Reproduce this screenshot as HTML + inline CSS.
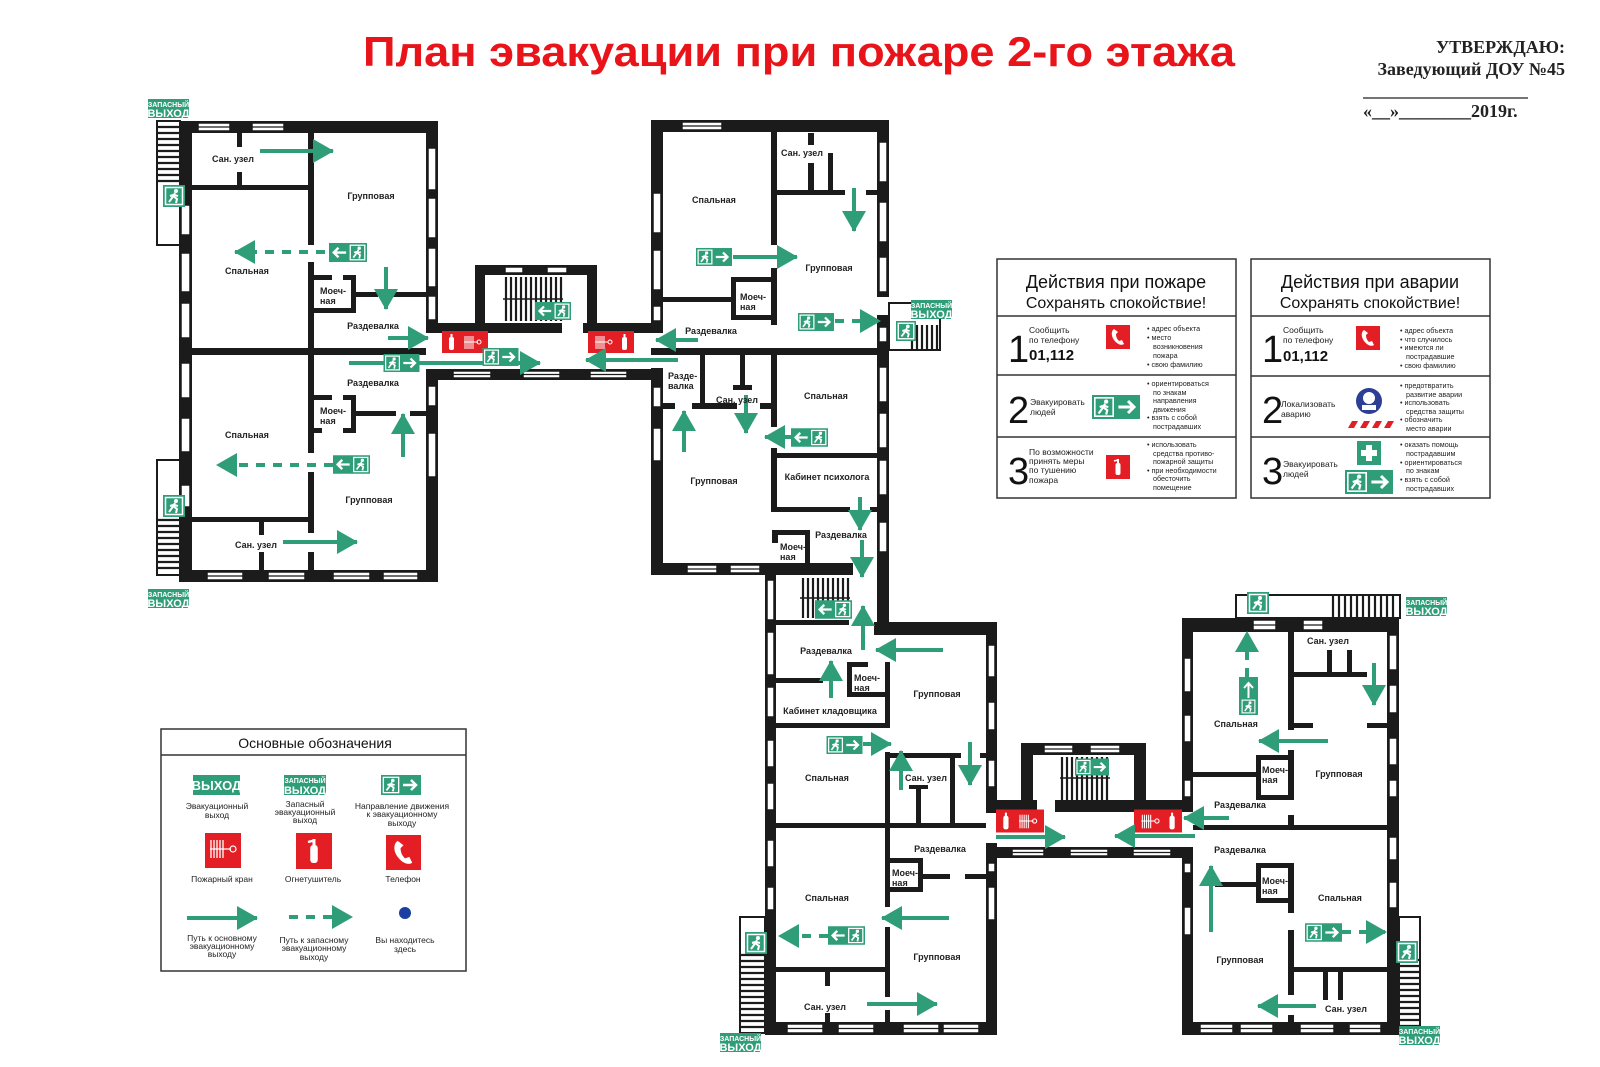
<!DOCTYPE html>
<html><head><meta charset="utf-8"><style>
html,body{margin:0;padding:0;background:#fff}
svg{display:block}
.t{font-family:"Liberation Sans",sans-serif;font-size:9px;font-weight:bold;fill:#222}
.s{font-family:"Liberation Sans",sans-serif;font-size:7.2px;fill:#222}
.m{font-family:"Liberation Sans",sans-serif;font-size:8.5px;fill:#222}
.l{font-family:"Liberation Sans",sans-serif;font-size:8.5px;fill:#222;text-anchor:middle}
.w{fill:#1b1b1b}
.ar{stroke:#2f9e78;stroke-width:4;fill:none}
.da{stroke:#2f9e78;stroke-width:4;fill:none;stroke-dasharray:9 8}
.ex{font-family:"Liberation Sans",sans-serif;font-weight:bold;fill:#fff;text-anchor:middle}
</style></head><body>
<svg width="1600" height="1067" viewBox="0 0 1600 1067" xmlns="http://www.w3.org/2000/svg">
<defs>
<marker id="ah" markerUnits="userSpaceOnUse" markerWidth="22" markerHeight="24" refX="20" refY="12" orient="auto"><path d="M0,0 L21,12 L0,24 z" fill="#2f9e78"/></marker>
<symbol id="man" viewBox="0 0 20 20"><rect x="1.5" y="1.5" width="17" height="17" fill="none" stroke="#fff" stroke-width="1.5"/><circle cx="12" cy="5" r="2" fill="#fff"/><path d="M11,7 L8,12 L5,16 M9,10 L13,13 L12,17 M9,9 L6,10 M10,9 L14,10" stroke="#fff" stroke-width="2" fill="none"/></symbol>
<symbol id="sgR" viewBox="0 0 40 20"><rect width="40" height="20" fill="#2f9e78"/><use href="#man" x="1" y="1" width="18" height="18"/><path d="M22,10 H35 M30,5 L35,10 L30,15" stroke="#fff" stroke-width="2.5" fill="none"/></symbol>
<symbol id="sgL" viewBox="0 0 40 20"><rect width="40" height="20" fill="#2f9e78"/><use href="#man" x="21" y="1" width="18" height="18"/><path d="M18,10 H5 M10,5 L5,10 L10,15" stroke="#fff" stroke-width="2.5" fill="none"/></symbol>
<symbol id="exi" viewBox="0 0 22 22"><rect width="22" height="22" fill="#2f9e78"/><use href="#man" x="1" y="1" width="20" height="20"/></symbol>
<symbol id="redL" viewBox="0 0 46 22"><rect width="46" height="22" fill="#e31e24"/><rect x="7" y="6" width="5" height="13" rx="2" fill="#fff"/><rect x="8.5" y="3" width="2" height="4" fill="#fff"/><g stroke="#fff" stroke-width="1"><line x1="23" y1="5" x2="23" y2="18"/><line x1="25" y1="5" x2="25" y2="18"/><line x1="27" y1="5" x2="27" y2="18"/><line x1="29" y1="5" x2="29" y2="18"/><line x1="31" y1="5" x2="31" y2="18"/><line x1="22" y1="11" x2="36" y2="11"/><circle cx="37" cy="11" r="2" fill="none"/></g></symbol>
<symbol id="redR" viewBox="0 0 46 22"><rect width="46" height="22" fill="#e31e24"/><rect x="34" y="6" width="5" height="13" rx="2" fill="#fff"/><rect x="35.5" y="3" width="2" height="4" fill="#fff"/><g stroke="#fff" stroke-width="1"><line x1="8" y1="5" x2="8" y2="18"/><line x1="10" y1="5" x2="10" y2="18"/><line x1="12" y1="5" x2="12" y2="18"/><line x1="14" y1="5" x2="14" y2="18"/><line x1="16" y1="5" x2="16" y2="18"/><line x1="7" y1="11" x2="20" y2="11"/><circle cx="22" cy="11" r="2" fill="none"/></g></symbol>
<symbol id="phone" viewBox="0 0 24 24"><rect width="24" height="24" fill="#e31e24"/><path d="M8,4 C5,6 5,11 8,15 C11,19 15,21 18,19 L16,15 L13,16 C11,14 10,12 10,9 L12,7 Z" fill="#fff"/></symbol>
<symbol id="ext" viewBox="0 0 24 24"><rect width="24" height="24" fill="#e31e24"/><rect x="9.5" y="8" width="5" height="12" rx="2" fill="#fff"/><rect x="11" y="4" width="2" height="5" fill="#fff"/><path d="M12,5 L8,6" stroke="#fff" stroke-width="1.5"/></symbol>
</defs>

<text x="799" y="66" text-anchor="middle" font-family="Liberation Sans,sans-serif" font-weight="bold" font-size="42" fill="#e8141a" textLength="872" lengthAdjust="spacingAndGlyphs">План эвакуации при пожаре 2-го этажа</text>
<g font-family="Liberation Serif,serif" font-weight="bold" font-size="18" fill="#222">
<text x="1565" y="53" text-anchor="end">УТВЕРЖДАЮ:</text>
<text x="1565" y="75" text-anchor="end">Заведующий ДОУ №45</text>
<text x="1363" y="117">«__»________2019г.</text>
</g>
<line x1="1363" y1="98" x2="1528" y2="98" stroke="#222" stroke-width="1.2"/>

<g fill="#fff" stroke="#1b1b1b" stroke-width="2">
<rect x="157" y="121" width="23" height="124"/>
<rect x="157" y="460" width="23" height="115"/>
<rect x="889" y="303" width="51" height="47"/>
<rect x="1236" y="595" width="164" height="23"/>
<rect x="740" y="917" width="25" height="116"/>
<rect x="1399" y="917" width="21" height="116"/>
</g>
<g stroke="#1b1b1b" stroke-width="2.2">
<path d="M158,127H180M158,133H180M158,139H180M158,145H180M158,151H180M158,157H180M158,163H180M158,169H180M158,175H180M158,181H180"/>
<path d="M158,520H180M158,526H180M158,532H180M158,538H180M158,544H180M158,550H180M158,556H180M158,562H180M158,568H180"/>
<path d="M912,325V350M917,325V350M922,325V350M927,325V350M932,325V350M937,325V350"/>
<path d="M1333,596V618M1339,596V618M1345,596V618M1351,596V618M1357,596V618M1363,596V618M1369,596V618M1375,596V618M1381,596V618M1387,596V618M1393,596V618"/>
<path d="M741,955H765M741,961H765M741,967H765M741,973H765M741,979H765M741,985H765M741,991H765M741,997H765M741,1003H765M741,1009H765M741,1015H765M741,1021H765M741,1027H765"/>
<path d="M1400,960H1420M1400,966H1420M1400,972H1420M1400,978H1420M1400,984H1420M1400,990H1420M1400,996H1420M1400,1002H1420M1400,1008H1420M1400,1014H1420M1400,1020H1420M1400,1026H1420"/>
<path d="M506,277V321M511,277V321M516,277V321M521,277V321M526,277V321M531,277V321M536,277V321M541,277V321M546,277V321M551,277V321M556,277V321M561,277V321"/>
<path d="M803,578V618M808,578V618M813,578V618M818,578V618M823,578V618M828,578V618M833,578V618M838,578V618M843,578V618M848,578V618"/>
<path d="M1062,757V800M1067,757V800M1072,757V800M1077,757V800M1082,757V800M1087,757V800M1092,757V800M1097,757V800M1102,757V800M1107,757V800"/>
</g>
<path d="M503,299H563M800,598H850M1060,778H1110" stroke="#1b1b1b" stroke-width="1.5"/>

<g class="w">
<rect x="179" y="121" width="259" height="12"/><rect x="179" y="121" width="13" height="461"/>
<rect x="426" y="121" width="12" height="202"/><rect x="426" y="369" width="12" height="213"/>
<rect x="179" y="570" width="259" height="12"/>
<rect x="308" y="133" width="6" height="112"/><rect x="308" y="262" width="6" height="191"/><rect x="308" y="472" width="6" height="61"/><rect x="308" y="552" width="6" height="18"/>
<rect x="192" y="348" width="234" height="7"/>
<rect x="192" y="185" width="116" height="5"/><rect x="237" y="133" width="5" height="14"/><rect x="237" y="172" width="5" height="13"/>
<rect x="314" y="275" width="18" height="5"/><rect x="343" y="275" width="13" height="5"/><rect x="351" y="275" width="5" height="38"/><rect x="314" y="308" width="42" height="5"/>
<rect x="356" y="292" width="22" height="5"/><rect x="393" y="292" width="33" height="5"/>
<rect x="314" y="395" width="18" height="5"/><rect x="343" y="395" width="13" height="5"/><rect x="351" y="395" width="5" height="38"/><rect x="314" y="428" width="8" height="5"/><rect x="343" y="428" width="13" height="5"/>
<rect x="356" y="411" width="40" height="5"/><rect x="410" y="411" width="16" height="5"/>
<rect x="192" y="517" width="116" height="5"/><rect x="259" y="522" width="5" height="13"/><rect x="259" y="552" width="5" height="18"/>
<rect x="426" y="323" width="59" height="10"/><rect x="475" y="265" width="10" height="68"/><rect x="587" y="265" width="10" height="68"/><rect x="475" y="265" width="122" height="10"/>
<rect x="485" y="323" width="77" height="10"/><rect x="583" y="323" width="80" height="10"/>
<rect x="426" y="369" width="237" height="11"/>
<rect x="651" y="120" width="238" height="12"/><rect x="651" y="120" width="12" height="213"/><rect x="651" y="368" width="12" height="207"/>
<rect x="877" y="120" width="12" height="177"/><rect x="877" y="315" width="12" height="320"/>
<rect x="651" y="563" width="202" height="12"/>
<rect x="771" y="132" width="6" height="113"/><rect x="771" y="268" width="6" height="57"/><rect x="771" y="348" width="6" height="79"/><rect x="771" y="448" width="6" height="64"/>
<rect x="731" y="277" width="46" height="5"/><rect x="731" y="277" width="5" height="43"/><rect x="731" y="315" width="46" height="5"/>
<rect x="663" y="297" width="68" height="5"/>
<rect x="777" y="190" width="68" height="5"/><rect x="866" y="190" width="11" height="5"/><rect x="808" y="133" width="6" height="12"/><rect x="808" y="163" width="6" height="27"/><rect x="828" y="153" width="5" height="37"/>
<rect x="651" y="348" width="226" height="7"/>
<rect x="700" y="355" width="5" height="53"/><rect x="663" y="403" width="12" height="6"/><rect x="692" y="403" width="45" height="6"/><rect x="760" y="403" width="17" height="6"/>
<rect x="740" y="355" width="5" height="30"/><rect x="733" y="385" width="19" height="5"/>
<rect x="777" y="453" width="100" height="5"/><rect x="771" y="507" width="79" height="5"/><rect x="870" y="507" width="7" height="5"/>
<rect x="772" y="530" width="38" height="5"/><rect x="772" y="530" width="6" height="13"/><rect x="805" y="530" width="5" height="45"/>
<rect x="765" y="563" width="11" height="470"/><rect x="776" y="620" width="73" height="5"/>
<rect x="874" y="622" width="123" height="13"/><rect x="986" y="622" width="11" height="191"/><rect x="986" y="843" width="11" height="190"/>
<rect x="765" y="1022" width="232" height="13"/>
<rect x="776" y="678" width="47" height="5"/><rect x="847" y="662" width="5" height="35"/><rect x="847" y="692" width="43" height="5"/><rect x="847" y="662" width="21" height="5"/>
<rect x="885" y="662" width="5" height="66"/><rect x="776" y="723" width="114" height="5"/>
<rect x="885" y="752" width="5" height="155"/><rect x="885" y="927" width="5" height="70"/><rect x="885" y="1010" width="5" height="12"/>
<rect x="890" y="753" width="71" height="5"/><rect x="980" y="753" width="6" height="5"/><rect x="916" y="787" width="5" height="36"/><rect x="909" y="785" width="19" height="4"/><rect x="950" y="758" width="5" height="65"/>
<rect x="776" y="823" width="210" height="5"/>
<rect x="890" y="858" width="33" height="5"/><rect x="918" y="858" width="5" height="34"/><rect x="890" y="887" width="33" height="5"/><rect x="923" y="874" width="27" height="5"/><rect x="965" y="874" width="21" height="5"/>
<rect x="776" y="967" width="114" height="5"/><rect x="825" y="972" width="5" height="14"/><rect x="825" y="1013" width="5" height="9"/>
<rect x="997" y="800" width="40" height="12"/><rect x="1021" y="743" width="12" height="69"/><rect x="1134" y="743" width="12" height="69"/><rect x="1021" y="743" width="125" height="12"/>
<rect x="1055" y="800" width="138" height="12"/><rect x="997" y="847" width="196" height="11"/>
<rect x="1182" y="618" width="217" height="14"/><rect x="1182" y="618" width="11" height="194"/><rect x="1182" y="847" width="11" height="188"/>
<rect x="1387" y="618" width="12" height="417"/><rect x="1182" y="1022" width="217" height="13"/>
<rect x="1288" y="632" width="6" height="98"/><rect x="1294" y="723" width="19" height="5"/><rect x="1367" y="723" width="20" height="5"/>
<rect x="1256" y="755" width="38" height="5"/><rect x="1256" y="755" width="5" height="45"/><rect x="1256" y="795" width="38" height="5"/><rect x="1288" y="750" width="6" height="50"/>
<rect x="1288" y="815" width="6" height="12"/><rect x="1288" y="863" width="6" height="50"/>
<rect x="1256" y="863" width="38" height="5"/><rect x="1256" y="863" width="5" height="40"/><rect x="1256" y="898" width="38" height="5"/>
<rect x="1288" y="930" width="6" height="65"/><rect x="1288" y="1015" width="6" height="7"/>
<rect x="1193" y="825" width="194" height="5"/><rect x="1294" y="672" width="73" height="5"/><rect x="1327" y="650" width="5" height="22"/><rect x="1347" y="650" width="5" height="22"/>
<rect x="1193" y="772" width="63" height="5"/><rect x="1215" y="882" width="41" height="5"/>
<rect x="1294" y="967" width="93" height="5"/><rect x="1323" y="972" width="5" height="28"/><rect x="1338" y="972" width="5" height="28"/>
</g>

<g fill="#fff" stroke="#1b1b1b" stroke-width="1.5">
<rect x="198" y="123" width="32" height="8"/><rect x="252" y="123" width="32" height="8"/>
<rect x="207" y="572" width="36" height="8"/><rect x="268" y="572" width="37" height="8"/><rect x="333" y="572" width="37" height="8"/><rect x="383" y="572" width="35" height="8"/>
<rect x="453" y="371" width="38" height="7"/><rect x="523" y="371" width="37" height="7"/><rect x="590" y="371" width="37" height="7"/>
<rect x="505" y="267" width="18" height="6"/><rect x="547" y="267" width="20" height="6"/>
<rect x="682" y="122" width="40" height="8"/>
<rect x="687" y="565" width="30" height="8"/><rect x="730" y="565" width="30" height="8"/>
<rect x="787" y="1024" width="36" height="9"/><rect x="838" y="1024" width="36" height="9"/><rect x="903" y="1024" width="36" height="9"/><rect x="943" y="1024" width="36" height="9"/>
<rect x="1044" y="745" width="29" height="8"/><rect x="1090" y="745" width="30" height="8"/>
<rect x="1012" y="849" width="32" height="7"/><rect x="1070" y="849" width="38" height="7"/><rect x="1133" y="849" width="38" height="7"/>
<rect x="1253" y="620" width="23" height="10"/><rect x="1303" y="620" width="20" height="10"/>
<rect x="1200" y="1024" width="33" height="9"/><rect x="1240" y="1024" width="33" height="9"/><rect x="1300" y="1024" width="34" height="9"/><rect x="1349" y="1024" width="32" height="9"/>
</g>
<g stroke="#1b1b1b" stroke-width="1.2">
<path d="M198,127h32M252,127h32M207,576h36M268,576h37M333,576h37M383,576h35M453,374.5h38M523,374.5h37M590,374.5h37M682,126h40M687,569h30M730,569h30M787,1028.5h36M838,1028.5h36M903,1028.5h36M943,1028.5h36M1044,749h29M1090,749h30M1012,852.5h32M1070,852.5h38M1133,852.5h38M1253,625h23M1303,625h20M1200,1028.5h33M1240,1028.5h33M1300,1028.5h34M1349,1028.5h32"/>
</g>
<g fill="#fff" stroke="#1b1b1b" stroke-width="1.5">
<rect x="181" y="253" width="9" height="39"/><rect x="181" y="303" width="9" height="35"/><rect x="181" y="363" width="9" height="35"/><rect x="181" y="418" width="9" height="34"/><rect x="181" y="485" width="9" height="22"/><rect x="181" y="205" width="9" height="30"/>
<rect x="428" y="148" width="8" height="42"/><rect x="428" y="198" width="8" height="40"/><rect x="428" y="248" width="8" height="39"/><rect x="428" y="296" width="8" height="24"/><rect x="428" y="386" width="8" height="20"/><rect x="428" y="433" width="8" height="44"/>
<rect x="653" y="193" width="8" height="40"/><rect x="653" y="250" width="8" height="40"/><rect x="653" y="306" width="8" height="15"/><rect x="653" y="387" width="8" height="20"/><rect x="653" y="428" width="8" height="33"/>
<rect x="879" y="142" width="8" height="40"/><rect x="879" y="202" width="8" height="40"/><rect x="879" y="257" width="8" height="35"/><rect x="879" y="327" width="8" height="15"/><rect x="879" y="367" width="8" height="35"/><rect x="879" y="413" width="8" height="35"/><rect x="879" y="460" width="8" height="35"/><rect x="879" y="522" width="8" height="30"/>
<rect x="767" y="580" width="7" height="40"/><rect x="767" y="632" width="7" height="43"/><rect x="767" y="687" width="7" height="30"/><rect x="767" y="740" width="7" height="27"/><rect x="767" y="783" width="7" height="27"/><rect x="767" y="840" width="7" height="27"/><rect x="767" y="887" width="7" height="23"/>
<rect x="988" y="645" width="7" height="32"/><rect x="988" y="702" width="7" height="28"/><rect x="988" y="760" width="7" height="27"/><rect x="988" y="863" width="7" height="9"/><rect x="988" y="887" width="7" height="33"/>
<rect x="1184" y="658" width="7" height="34"/><rect x="1184" y="715" width="7" height="27"/><rect x="1184" y="780" width="7" height="17"/><rect x="1184" y="863" width="7" height="10"/><rect x="1184" y="907" width="7" height="28"/>
<rect x="1389" y="635" width="8" height="35"/><rect x="1389" y="685" width="8" height="28"/><rect x="1389" y="738" width="8" height="27"/><rect x="1389" y="780" width="8" height="17"/><rect x="1389" y="837" width="8" height="23"/><rect x="1389" y="882" width="8" height="26"/>
</g>

<use href="#redL" x="442" y="331" width="46" height="22"/>
<use href="#redR" x="588" y="331" width="46" height="22"/>
<use href="#redL" x="996" y="809" width="48" height="24"/>
<use href="#redR" x="1134" y="809" width="48" height="24"/>

<g class="ar" marker-end="url(#ah)">
<line x1="260" y1="151" x2="333" y2="151"/>
<line x1="386" y1="267" x2="386" y2="309"/>
<line x1="388" y1="338" x2="428" y2="338"/>
<line x1="349" y1="363" x2="540" y2="363"/>
<line x1="403" y1="457" x2="403" y2="414"/>
<line x1="283" y1="542" x2="357" y2="542"/>
<line x1="678" y1="360" x2="586" y2="360"/>
<line x1="698" y1="340" x2="656" y2="340"/>
<line x1="854" y1="188" x2="854" y2="231"/>
<line x1="733" y1="257" x2="797" y2="257"/>
<line x1="684" y1="452" x2="684" y2="411"/>
<line x1="746" y1="395" x2="746" y2="433"/>
<line x1="791" y1="437" x2="765" y2="437"/>
<line x1="860" y1="497" x2="860" y2="530"/>
<line x1="862" y1="540" x2="862" y2="577"/>
<line x1="863" y1="650" x2="863" y2="606"/>
<line x1="943" y1="650" x2="876" y2="650"/>
<line x1="831" y1="698" x2="831" y2="661"/>
<line x1="863" y1="744" x2="891" y2="744"/>
<line x1="901" y1="790" x2="901" y2="751"/>
<line x1="970" y1="742" x2="970" y2="785"/>
<line x1="949" y1="918" x2="882" y2="918"/>
<line x1="867" y1="1004" x2="937" y2="1004"/>
<line x1="996" y1="837" x2="1065" y2="837"/>
<line x1="1195" y1="836" x2="1115" y2="836"/>
<line x1="1229" y1="818" x2="1184" y2="818"/>
<line x1="1211" y1="932" x2="1211" y2="866"/>
<line x1="1374" y1="663" x2="1374" y2="705"/>
<line x1="1328" y1="741" x2="1259" y2="741"/>
<line x1="1316" y1="1006" x2="1258" y2="1006"/>
</g>
<g class="da" marker-end="url(#ah)">
<line x1="325" y1="252" x2="235" y2="252"/>
<line x1="333" y1="465" x2="217" y2="465"/>
<line x1="835" y1="321" x2="880" y2="321"/>
<line x1="828" y1="936" x2="779" y2="936"/>
<line x1="1247" y1="677" x2="1247" y2="632"/>
<line x1="1342" y1="932" x2="1386" y2="932"/>
</g>

<use href="#sgL" x="329" y="243" width="38" height="19"/>
<use href="#sgR" x="383" y="354" width="37" height="18"/>
<use href="#sgR" x="482" y="348" width="37" height="18"/>
<use href="#sgL" x="535" y="301" width="36" height="20"/>
<use href="#sgL" x="333" y="455" width="37" height="19"/>
<use href="#sgR" x="695" y="248" width="38" height="18"/>
<use href="#sgR" x="797" y="313" width="38" height="18"/>
<use href="#sgL" x="791" y="428" width="37" height="19"/>
<use href="#sgL" x="815" y="600" width="37" height="19"/>
<use href="#sgR" x="826" y="736" width="37" height="18"/>
<use href="#sgL" x="828" y="926" width="37" height="19"/>
<use href="#sgR" x="1075" y="757" width="34" height="20"/>
<use href="#sgR" x="1305" y="923" width="37" height="19"/>
<rect x="1239" y="677" width="19" height="38" fill="#2f9e78"/>
<path d="M1248.5,698V683M1244,688L1248.5,683L1253,688" stroke="#fff" stroke-width="2" fill="none"/>
<use href="#man" x="1240" y="699" width="17" height="15"/>
<use href="#exi" x="163" y="185" width="22" height="22"/>
<use href="#exi" x="163" y="495" width="22" height="22"/>
<use href="#exi" x="896" y="320" width="20" height="22"/>
<use href="#exi" x="1247" y="591" width="22" height="24"/>
<use href="#exi" x="745" y="932" width="22" height="22"/>
<use href="#exi" x="1396" y="940" width="22" height="24"/>

<g>
<rect x="148" y="99" width="41" height="19" fill="#2f9e78"/><text class="ex" x="168.5" y="107" font-size="7">ЗАПАСНЫЙ</text><text class="ex" x="168.5" y="117" font-size="11">ВЫХОД</text>
<rect x="148" y="589" width="41" height="19" fill="#2f9e78"/><text class="ex" x="168.5" y="597" font-size="7">ЗАПАСНЫЙ</text><text class="ex" x="168.5" y="607" font-size="11">ВЫХОД</text>
<rect x="911" y="300" width="41" height="19" fill="#2f9e78"/><text class="ex" x="931.5" y="308" font-size="7">ЗАПАСНЫЙ</text><text class="ex" x="931.5" y="318" font-size="11">ВЫХОД</text>
<rect x="1406" y="597" width="41" height="19" fill="#2f9e78"/><text class="ex" x="1426.5" y="605" font-size="7">ЗАПАСНЫЙ</text><text class="ex" x="1426.5" y="615" font-size="11">ВЫХОД</text>
<rect x="720" y="1033" width="41" height="19" fill="#2f9e78"/><text class="ex" x="740.5" y="1041" font-size="7">ЗАПАСНЫЙ</text><text class="ex" x="740.5" y="1051" font-size="11">ВЫХОД</text>
<rect x="1399" y="1026" width="41" height="19" fill="#2f9e78"/><text class="ex" x="1419.5" y="1034" font-size="7">ЗАПАСНЫЙ</text><text class="ex" x="1419.5" y="1044" font-size="11">ВЫХОД</text>
</g>

<g class="t" text-anchor="middle">
<text x="233" y="162">Сан. узел</text><text x="371" y="199">Групповая</text><text x="247" y="274">Спальная</text>
<text x="373" y="329">Раздевалка</text><text x="373" y="386">Раздевалка</text><text x="247" y="438">Спальная</text>
<text x="369" y="503">Групповая</text><text x="256" y="548">Сан. узел</text>
<text x="714" y="203">Спальная</text><text x="802" y="156">Сан. узел</text><text x="829" y="271">Групповая</text>
<text x="711" y="334">Раздевалка</text><text x="737" y="403">Сан. узел</text><text x="826" y="399">Спальная</text>
<text x="714" y="484">Групповая</text><text x="827" y="480">Кабинет психолога</text><text x="841" y="538">Раздевалка</text>
<text x="826" y="654">Раздевалка</text><text x="830" y="714">Кабинет кладовщика</text><text x="937" y="697">Групповая</text>
<text x="827" y="781">Спальная</text><text x="926" y="781">Сан. узел</text><text x="940" y="852">Раздевалка</text>
<text x="827" y="901">Спальная</text><text x="937" y="960">Групповая</text><text x="825" y="1010">Сан. узел</text>
<text x="1328" y="644">Сан. узел</text><text x="1236" y="727">Спальная</text><text x="1339" y="777">Групповая</text>
<text x="1240" y="808">Раздевалка</text><text x="1240" y="853">Раздевалка</text><text x="1340" y="901">Спальная</text>
<text x="1240" y="963">Групповая</text><text x="1346" y="1012">Сан. узел</text>
</g>
<g class="t">
<text x="320" y="294">Моеч-</text><text x="320" y="304">ная</text>
<text x="320" y="414">Моеч-</text><text x="320" y="424">ная</text>
<text x="740" y="300">Моеч-</text><text x="740" y="310">ная</text>
<text x="668" y="379">Разде-</text><text x="668" y="389">валка</text>
<text x="780" y="550">Моеч-</text><text x="780" y="560">ная</text>
<text x="854" y="681">Моеч-</text><text x="854" y="691">ная</text>
<text x="892" y="876">Моеч-</text><text x="892" y="886">ная</text>
<text x="1262" y="773">Моеч-</text><text x="1262" y="783">ная</text>
<text x="1262" y="884">Моеч-</text><text x="1262" y="894">ная</text>
</g>

<g fill="none" stroke="#333" stroke-width="1.5">
<rect x="997" y="259" width="239" height="239"/>
<path d="M997,316H1236M997,375H1236M997,437H1236"/>
<rect x="1251" y="259" width="239" height="239"/>
<path d="M1251,316H1490M1251,376H1490M1251,437H1490"/>
</g>
<g font-family="Liberation Sans,sans-serif" fill="#111">
<text x="1116" y="288" text-anchor="middle" font-size="18">Действия при пожаре</text>
<text x="1116" y="308" text-anchor="middle" font-size="16">Сохранять спокойствие!</text>
<text x="1370" y="288" text-anchor="middle" font-size="18">Действия при аварии</text>
<text x="1370" y="308" text-anchor="middle" font-size="16">Сохранять спокойствие!</text>
<text x="1008" y="362" font-size="38">1</text><text x="1008" y="423" font-size="38">2</text><text x="1008" y="484" font-size="38">3</text>
<text x="1262" y="362" font-size="38">1</text><text x="1262" y="423" font-size="38">2</text><text x="1262" y="484" font-size="38">3</text>
<text x="1029" y="360" font-size="15" font-weight="bold">01,112</text>
<text x="1283" y="361" font-size="15" font-weight="bold">01,112</text>
</g>
<g class="m">
<text x="1029" y="333">Сообщить</text><text x="1029" y="343">по телефону</text>
<text x="1030" y="405">Эвакуировать</text><text x="1030" y="415">людей</text>
<text x="1029" y="455">По возможности</text><text x="1029" y="464">принять меры</text><text x="1029" y="473">по тушению</text><text x="1029" y="483">пожара</text>
<text x="1283" y="333">Сообщить</text><text x="1283" y="343">по телефону</text>
<text x="1281" y="407">Локализовать</text><text x="1281" y="417">аварию</text>
<text x="1283" y="467">Эвакуировать</text><text x="1283" y="477">людей</text>
</g>
<use href="#phone" x="1106" y="325" width="24" height="24"/>
<use href="#phone" x="1356" y="326" width="24" height="24"/>
<use href="#sgR" x="1091" y="395" width="50" height="24"/>
<use href="#ext" x="1106" y="455" width="24" height="24"/>
<circle cx="1369" cy="401" r="13" fill="#2b3f94"/><circle cx="1369" cy="398" r="6" fill="#fff"/><rect x="1362" y="405" width="14" height="5" fill="#fff"/>
<path d="M1348,428L1352,421H1358L1354,428ZM1360,428L1364,421H1370L1366,428ZM1372,428L1376,421H1382L1378,428ZM1384,428L1388,421H1394L1390,428Z" fill="#e31e24"/>
<rect x="1357" y="441" width="24" height="24" fill="#2f9e78"/><path d="M1369,445V461M1361,453H1377" stroke="#fff" stroke-width="6"/>
<use href="#sgR" x="1345" y="470" width="48" height="24"/>
<g class="s">
<text x="1147" y="331">• адрес объекта</text><text x="1147" y="340">• место</text><text x="1153" y="349">возникновения</text><text x="1153" y="358">пожара</text><text x="1147" y="367">• свою фамилию</text>
<text x="1147" y="386">• ориентироваться</text><text x="1153" y="395">по знакам</text><text x="1153" y="403">направления</text><text x="1153" y="412">движения</text><text x="1147" y="420">• взять с собой</text><text x="1153" y="429">пострадавших</text>
<text x="1147" y="447">• использовать</text><text x="1153" y="456">средства противо-</text><text x="1153" y="464">пожарной защиты</text><text x="1147" y="473">• при необходимости</text><text x="1153" y="481">обесточить</text><text x="1153" y="490">помещение</text>
<text x="1400" y="333">• адрес объекта</text><text x="1400" y="342">• что случилось</text><text x="1400" y="350">• имеются ли</text><text x="1406" y="359">пострадавшие</text><text x="1400" y="368">• свою фамилию</text>
<text x="1400" y="388">• предотвратить</text><text x="1406" y="397">развитие аварии</text><text x="1400" y="405">• использовать</text><text x="1406" y="414">средства защиты</text><text x="1400" y="422">• обозначить</text><text x="1406" y="431">место аварии</text>
<text x="1400" y="447">• оказать помощь</text><text x="1406" y="456">пострадавшим</text><text x="1400" y="465">• ориентироваться</text><text x="1406" y="473">по знакам</text><text x="1400" y="482">• взять с собой</text><text x="1406" y="491">пострадавших</text>
</g>

<rect x="161" y="729" width="305" height="242" fill="none" stroke="#333" stroke-width="1.5"/>
<line x1="161" y1="755" x2="466" y2="755" stroke="#333" stroke-width="1.5"/>
<text x="315" y="748" text-anchor="middle" font-family="Liberation Sans,sans-serif" font-size="14" fill="#111">Основные обозначения</text>
<rect x="193" y="775" width="47" height="20" fill="#2f9e78"/><text class="ex" x="216.5" y="790" font-size="13">ВЫХОД</text>
<rect x="284" y="775" width="42" height="20" fill="#2f9e78"/><text class="ex" x="305" y="783" font-size="7">ЗАПАСНЫЙ</text><text class="ex" x="305" y="794" font-size="11">ВЫХОД</text>
<use href="#sgR" x="380" y="775" width="42" height="20"/>
<g class="l">
<text x="217" y="809">Эвакуационный</text><text x="217" y="818">выход</text>
<text x="305" y="807">Запасный</text><text x="305" y="815">эвакуационный</text><text x="305" y="823">выход</text>
<text x="402" y="809">Направление движения</text><text x="402" y="817">к эвакуационному</text><text x="402" y="826">выходу</text>
<text x="222" y="882">Пожарный кран</text><text x="313" y="882">Огнетушитель</text><text x="403" y="882">Телефон</text>
<text x="222" y="941">Путь к основному</text><text x="222" y="949">эвакуационному</text><text x="222" y="957">выходу</text>
<text x="314" y="943">Путь к запасному</text><text x="314" y="951">эвакуационному</text><text x="314" y="960">выходу</text>
<text x="405" y="943">Вы находитесь</text><text x="405" y="952">здесь</text>
</g>
<rect x="205" y="833" width="36" height="35" fill="#e31e24"/>
<g stroke="#fff" stroke-width="1.3"><path d="M211,840V858M214,840V858M217,840V858M220,840V858M223,840V858M210,849H231"/></g><circle cx="233" cy="849" r="3" fill="none" stroke="#fff" stroke-width="1.2"/>
<use href="#ext" x="296" y="833" width="36" height="36"/>
<use href="#phone" x="386" y="835" width="35" height="35"/>
<line x1="187" y1="918" x2="257" y2="918" class="ar" marker-end="url(#ah)"/>
<line x1="289" y1="917" x2="352" y2="917" class="da" marker-end="url(#ah)"/>
<circle cx="405" cy="913" r="6" fill="#1a3fa0"/>
</svg>
</body></html>
